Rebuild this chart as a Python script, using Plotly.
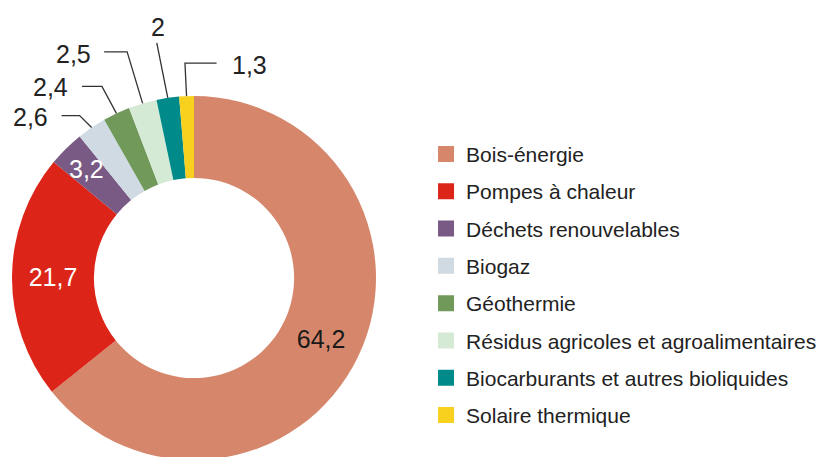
import math
import plotly.graph_objects as go

categories = ["Bois-énergie", "Pompes à chaleur", "Déchets renouvelables", "Biogaz",
              "Géothermie", "Résidus agricoles et agroalimentaires",
              "Biocarburants et autres bioliquides", "Solaire thermique"]
values = [64.2, 21.7, 3.2, 2.6, 2.4, 2.5, 2.0, 1.3]
value_labels = ["64,2", "21,7", "3,2", "2,6", "2,4", "2,5", "2", "1,3"]
colors = ["#D6876B", "#DC2418", "#795A85", "#CFDAE3", "#70995A", "#D5EAD5", "#008A8A", "#F8D11E"]

FONT = "Liberation Sans, Arial, Helvetica, sans-serif"
TEXT = "#222222"
W, H = 826, 457
LABEL_SIZE = 25

# pie placement (paper domain)
DOM_X = [0.004843, 0.445521]
DOM_Y = [0.010941, 0.807440]
HOLE = 0.55

# how each value label is shown: plotly inside text, annotation inside, or annotation with leader
label_mode = ["pie", "pie", "inside", "leader", "leader", "leader", "leader", "leader"]
label_colors = ["#1a1a1a", "#ffffff", "#ffffff", TEXT, TEXT, TEXT, TEXT, TEXT]
# leader styling: (elbow dx, elbow dy, end dx, end dy, text dx, text dy, text anchor) in screen px from slice tip
leader_style = {
    3: (-12, -12, -30, -12, -42, -11, "right"),
    4: (-14.5, -27, -34.5, -27, -46, -26, "right"),
    5: (-15.5, -51.5, -38.5, -51.5, -50, -49, "right"),
    6: (-5.5, -27.5, -11, -55, -10, -71, "center"),
    7: (-1.6, -33, 30, -33, 43, -31, "left"),
}

fig = go.Figure()
fig.add_trace(go.Pie(
    labels=categories, values=values,
    text=[t if m == "pie" else "" for t, m in zip(value_labels, label_mode)],
    textinfo="text", hoverinfo="label+value", sort=False, direction="clockwise", rotation=0,
    hole=HOLE, marker=dict(colors=colors, line=dict(width=0)),
    textposition=["inside" if m == "pie" else "none" for m in label_mode],
    insidetextorientation="horizontal",
    textfont=dict(family=FONT, size=LABEL_SIZE, color=label_colors),
    showlegend=False,
    domain=dict(x=DOM_X, y=DOM_Y),
))

# legend entries (one per category, same colours as the slices)
for cat, col in zip(categories, colors):
    fig.add_trace(go.Scatter(
        x=[None], y=[None], mode="markers", name=cat, legendgroup=cat,
        marker=dict(symbol="square", size=16, color=col), showlegend=True,
        hoverinfo="skip",
    ))

# geometry of the pie, as plotly lays it out
cxp = (DOM_X[0] + DOM_X[1]) / 2
cyp = (DOM_Y[0] + DOM_Y[1]) / 2
r_px = 0.5 * min((DOM_X[1] - DOM_X[0]) * W, (DOM_Y[1] - DOM_Y[0]) * H)
total = sum(values)

annotations = []
shapes = []
cum = 0.0
for i, v in enumerate(values):
    theta = 2 * math.pi * (cum + v / 2) / total
    cum += v
    mode = label_mode[i]
    if mode == "inside":
        rr = r_px * 0.84
        annotations.append(dict(
            x=cxp + rr * math.sin(theta) / W, y=cyp + rr * math.cos(theta) / H,
            xref="paper", yref="paper", text=value_labels[i], showarrow=False,
            xanchor="center", yanchor="middle",
            font=dict(family=FONT, size=LABEL_SIZE, color=label_colors[i])))
    elif mode == "leader":
        tx = cxp + r_px * math.sin(theta) / W
        ty = cyp + r_px * math.cos(theta) / H
        ex, ey, hx, hy, dx, dy, anc = leader_style[i]
        shapes.append(dict(
            type="path", xref="paper", yref="paper", xsizemode="pixel", ysizemode="pixel",
            xanchor=tx, yanchor=ty,
            path=f"M0,0 L{ex},{-ey} L{hx},{-hy}",
            line=dict(color="#333333", width=1.3)))
        annotations.append(dict(
            x=tx, y=ty, xref="paper", yref="paper", text=value_labels[i], showarrow=False,
            xanchor=anc, yanchor="middle", xshift=dx, yshift=-dy,
            font=dict(family=FONT, size=LABEL_SIZE, color=label_colors[i])))

fig.update_layout(
    width=W, height=H,
    margin=dict(l=0, r=0, t=0, b=0),
    paper_bgcolor="white", plot_bgcolor="white",
    font=dict(family=FONT, color=TEXT),
    xaxis=dict(visible=False), yaxis=dict(visible=False),
    legend=dict(x=0.5061, xanchor="left", y=0.7247, yanchor="top",
                font=dict(family=FONT, size=21, color=TEXT),
                tracegroupgap=7, itemsizing="trace", bgcolor="rgba(0,0,0,0)"),
    annotations=annotations, shapes=shapes,
)

fig.write_html("out.html")
